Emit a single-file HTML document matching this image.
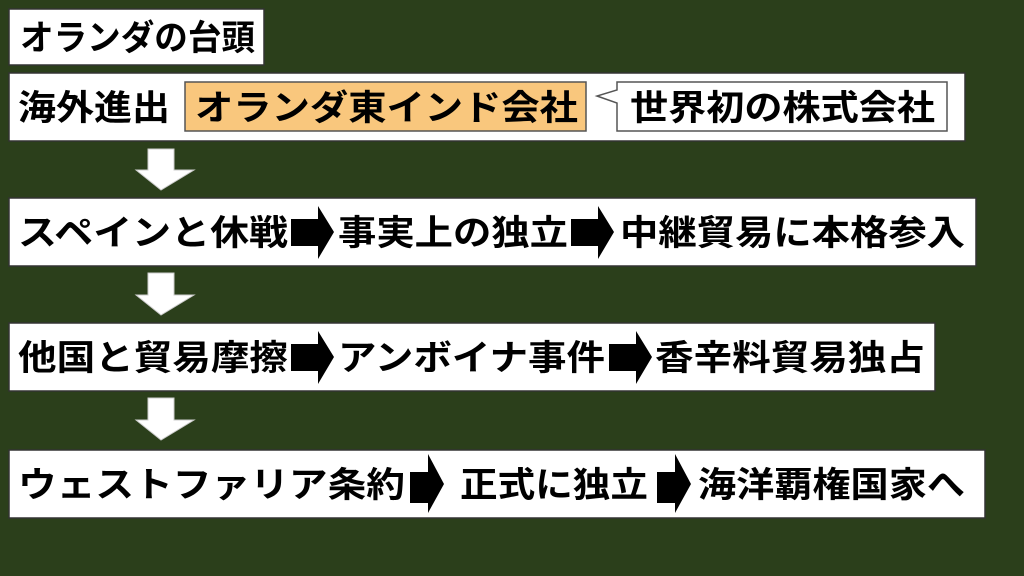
<!DOCTYPE html>
<html><head><meta charset="utf-8"><style>
html,body{margin:0;padding:0;background:#2b3f1b;}
svg{display:block}
text{font-family:"Liberation Sans","Noto Sans CJK JP",sans-serif;font-weight:bold;font-size:35px;fill:#000}
</style></head><body>
<svg width="1024" height="576" viewBox="0 0 1024 576" xmlns="http://www.w3.org/2000/svg">
<rect width="1024" height="576" fill="#2b3f1b"/>
<g stroke="#333" stroke-width="1.5" fill="#fff">
<rect x="9" y="9" width="255" height="56"/>
<rect x="9" y="73" width="956" height="68"/>
<rect x="9" y="198" width="967" height="68"/>
<rect x="9" y="323" width="926" height="68"/>
<rect x="9" y="450" width="976" height="68"/>
</g>
<rect x="185" y="82" width="401" height="49" fill="#f9c77d" stroke="#555" stroke-width="1.5"/>
<path d="M617 82 H947 V131 H617 V103 L597 96 L617 90 Z" fill="#fff" stroke="#555" stroke-width="1.5"/>
<g fill="#fff" stroke="#ccc" stroke-width="1">
<path d="M148 149 H174 V170 H194 L161 190 L136 170 H148 Z"/>
<path d="M148 273 H174 V295 H194 L161 315 L136 295 H148 Z"/>
<path d="M148 398 H174 V420 H194 L161 440 L136 420 H148 Z"/>
</g>
<g fill="#000">
<path d="M291 219 H318 V206 L334 232 L318 259 V246 H291 Z"/>
<path d="M571 219 H598 V206 L614 232 L598 259 V246 H571 Z"/>
<path d="M291 344 H318 V331 L334 357 L318 384 V371 H291 Z"/>
<path d="M609 344 H636 V331 L652 357 L636 384 V371 H609 Z"/>
<path d="M410 472 H428 V454 L444 484 L428 513 V503 H410 Z"/>
<path d="M657 472 H675 V454 L691 484 L675 513 V503 H657 Z"/>
</g>
<text x="20" y="50" textLength="235" lengthAdjust="spacingAndGlyphs">オランダの台頭</text>
<text x="18" y="120" textLength="152" lengthAdjust="spacingAndGlyphs">海外進出</text>
<text x="195" y="120" textLength="383" lengthAdjust="spacingAndGlyphs">オランダ東インド会社</text>
<text x="630" y="120" textLength="305" lengthAdjust="spacingAndGlyphs">世界初の株式会社</text>
<text x="18" y="245" textLength="270" lengthAdjust="spacingAndGlyphs">スペインと休戦</text>
<text x="338" y="245" textLength="230" lengthAdjust="spacingAndGlyphs">事実上の独立</text>
<text x="620" y="245" textLength="345" lengthAdjust="spacingAndGlyphs">中継貿易に本格参入</text>
<text x="18" y="370" textLength="270" lengthAdjust="spacingAndGlyphs">他国と貿易摩擦</text>
<text x="338" y="370" textLength="267" lengthAdjust="spacingAndGlyphs">アンボイナ事件</text>
<text x="655" y="370" textLength="270" lengthAdjust="spacingAndGlyphs">香辛料貿易独占</text>
<text x="18" y="497" textLength="387" lengthAdjust="spacingAndGlyphs">ウェストファリア条約</text>
<text x="460" y="497" textLength="188" lengthAdjust="spacingAndGlyphs">正式に独立</text>
<text x="698" y="497" textLength="267" lengthAdjust="spacingAndGlyphs">海洋覇権国家へ</text>
</svg>
</body></html>
